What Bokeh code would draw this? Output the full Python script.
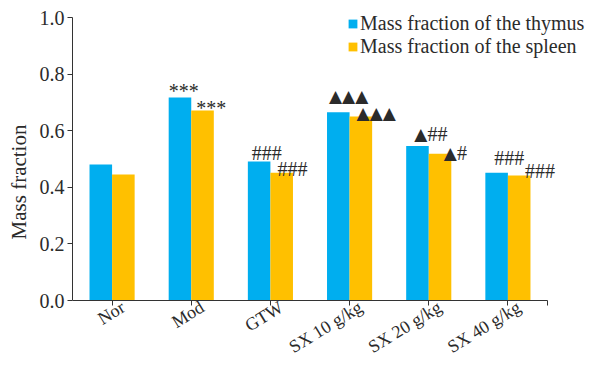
from bokeh.plotting import figure
from bokeh.models import (Range1d, Legend, LegendItem, ColumnDataSource,
                          FixedTicker, NumeralTickFormatter)
from bokeh.core.properties import value
from bokeh.embed import file_html
from bokeh.resources import INLINE

# ---- data ----
categories = ["Nor", "Mod", "GTW", "SX 10 g/kg", "SX 20 g/kg", "SX 40 g/kg"]
thymus = [0.481, 0.717, 0.491, 0.665, 0.546, 0.451]
spleen = [0.445, 0.671, 0.451, 0.650, 0.519, 0.442]
thymus_tri = ["", "", "", "\u25B2\u25B2\u25B2", "\u25B2", ""]
thymus_hash = ["", "***", "###", "", "##", "###"]
spleen_tri = ["", "", "", "\u25B2\u25B2\u25B2", "\u25B2", ""]
spleen_hash = ["", "***", "###", "", "#", "###"]
y_ticks = [0.0, 0.2, 0.4, 0.6, 0.8, 1.0]
series_names = ["Mass fraction of the thymus", "Mass fraction of the spleen"]

# ---- styling (annotation placement in screen px) ----
thymus_dx = [0, 0, 4, 2, 8, 9]
thymus_gap = [0, 7, 9, 16, 12, 15]
spleen_dx = [0, 5, 7, 7, 15, 17]
spleen_gap = [0, 3, 4, 4, 1, 4]
TRI_W = 13.3

BLUE = "#00AEEF"
ORANGE = "#FFC000"
TXT = "#2b2b2b"
AX = "#333333"
FONT = "Liberation Serif"
BW = 0.285
LABEL_SHIFT = 0.14

n = len(categories)
xs = [i + 0.5 for i in range(n)]

src = ColumnDataSource(dict(
    x=xs,
    xt=[x - BW / 2 for x in xs], xs_=[x + BW / 2 for x in xs],
    xtl=[x - BW for x in xs], xsl=list(xs),
    thymus=thymus, spleen=spleen,
    ttri=thymus_tri, thash=thymus_hash, stri=spleen_tri, shash=spleen_hash,
    tdx=thymus_dx, tdy=[-g for g in thymus_gap],
    tdx2=[d + TRI_W * len(t) for d, t in zip(thymus_dx, thymus_tri)],
    sdx=spleen_dx, sdy=[-g for g in spleen_gap],
    sdx2=[d + TRI_W * len(t) for d, t in zip(spleen_dx, spleen_tri)],
))

p = figure(x_range=Range1d(0, 6.518), y_range=Range1d(-0.2226, 1.0601),
           width=588, height=363,
           min_border_left=72, min_border_top=0, min_border_right=0, min_border_bottom=0,
           output_backend="svg", toolbar_location=None)

r1 = p.vbar(x="xt", top="thymus", width=BW, source=src, fill_color=BLUE, line_color=None)
r2 = p.vbar(x="xs_", top="spleen", width=BW, source=src, fill_color=ORANGE, line_color=None)

common = dict(text_align="left", text_baseline="alphabetic", text_color=TXT, source=src)
p.text(x="xtl", y="thymus", text="thash", x_offset="tdx2", y_offset="tdy",
       text_font=value(FONT), text_font_size="20px", **common)
p.text(x="xsl", y="spleen", text="shash", x_offset="sdx2", y_offset="sdy",
       text_font=value(FONT), text_font_size="20px", **common)
p.text(x="xtl", y="thymus", text="ttri", x_offset="tdx", y_offset="tdy",
       text_font=value("DejaVu Sans"), text_font_size="17px", **common)
p.text(x="xsl", y="spleen", text="stri", x_offset="sdx", y_offset="sdy",
       text_font=value("DejaVu Sans"), text_font_size="17px", **common)

p.xgrid.visible = False
p.ygrid.visible = False
p.outline_line_color = None

ya = p.yaxis[0]
ya.bounds = (0, 1.0)
ya.ticker = FixedTicker(ticks=y_ticks)
ya.formatter = NumeralTickFormatter(format="0.0")
ya.axis_label = "Mass fraction"
ya.axis_label_text_font = FONT
ya.axis_label_text_font_style = "normal"
ya.axis_label_text_font_size = "21px"
ya.axis_label_text_color = TXT
ya.axis_label_standoff = 6
ya.major_label_text_font = FONT
ya.major_label_text_font_size = "20px"
ya.major_label_text_color = TXT
ya.major_label_standoff = 3
ya.major_tick_out = 5
ya.major_tick_in = 0
ya.minor_tick_out = 0
ya.minor_tick_in = 0
ya.axis_line_color = AX
ya.major_tick_line_color = AX

xa = p.xaxis[0]
xa.fixed_location = 0
xa.bounds = (0, n)
label_ticks = [x + LABEL_SHIFT for x in xs]
xa.ticker = FixedTicker(ticks=label_ticks, minor_ticks=xs + [n])
xa.major_label_overrides = {t: c for t, c in zip(label_ticks, categories)}
xa.major_label_orientation = 0.55
xa.major_label_text_font = FONT
xa.major_label_text_font_size = "18px"
xa.major_label_text_color = TXT
xa.major_label_standoff = 0
xa.major_tick_out = 0
xa.major_tick_in = 0
xa.major_tick_line_color = None
xa.minor_tick_out = 5
xa.minor_tick_in = 0
xa.minor_tick_line_color = AX
xa.axis_line_color = AX

legend = Legend(items=[LegendItem(label=series_names[0], renderers=[r1]),
                       LegendItem(label=series_names[1], renderers=[r2])],
                location=(275, 305),
                border_line_color=None, background_fill_alpha=0,
                padding=0, margin=0, spacing=0,
                glyph_width=11, glyph_height=11, label_standoff=2,
                label_text_font=FONT, label_text_font_size="20px",
                label_text_color=TXT, label_height=22)
p.add_layout(legend)

open("out.html", "w").write(file_html(p, INLINE))
